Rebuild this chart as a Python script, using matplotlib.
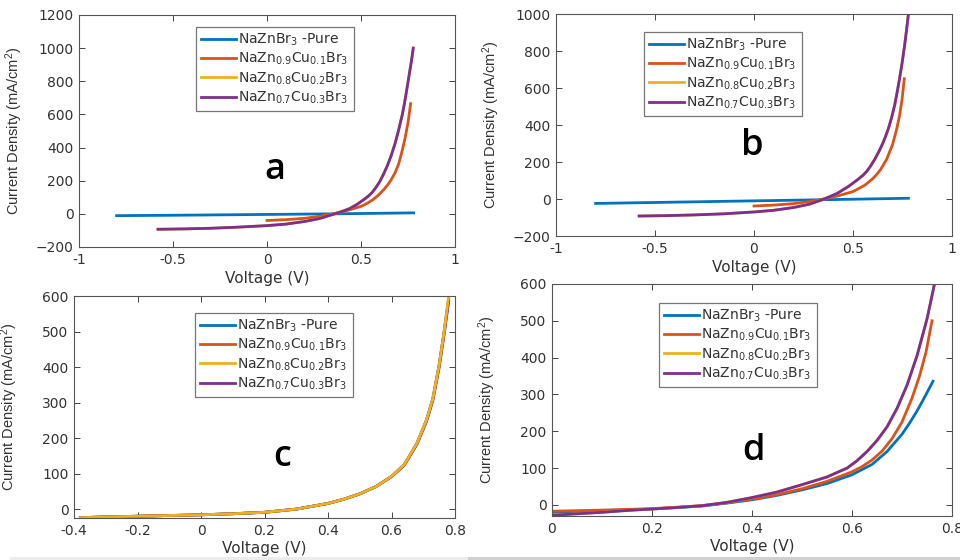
import matplotlib.pyplot as plt
from matplotlib.patches import Rectangle

plt.rcParams['font.family'] = ['DejaVu Sans']
plt.rcParams['mathtext.default'] = 'regular'

# legend labels (same in every panel)
labels = [r'NaZnBr$_3$ -Pure',
          r'NaZn$_{0.9}$Cu$_{0.1}$Br$_3$',
          r'NaZn$_{0.8}$Cu$_{0.2}$Br$_3$',
          r'NaZn$_{0.7}$Cu$_{0.3}$Br$_3$']
colors = ['#0072BD', '#D95319', '#EDB120', '#7E2F8E']

# ---- panel a ----
v_a_pure = [-0.8, -0.4, 0.0, 0.35, 0.78]
j_a_pure = [-11, -7.5, -3.5, 0, 6]
v_a_cu1 = [0.0, 0.1, 0.2, 0.28, 0.35, 0.42, 0.5, 0.53, 0.56, 0.59, 0.62, 0.64, 0.66, 0.68,
           0.7, 0.72, 0.735, 0.75, 0.764]
j_a_cu1 = [-40, -35, -27, -15, 0, 18, 45, 62, 83, 110, 145, 172, 205, 245,
           300, 385, 460, 550, 665]
v_a_cu3 = [-0.58, -0.45, -0.3, -0.15, 0.0, 0.1, 0.2, 0.28, 0.36, 0.4, 0.44, 0.48, 0.52, 0.54,
           0.56, 0.58, 0.6, 0.62, 0.64, 0.66, 0.68, 0.7, 0.72, 0.73, 0.74, 0.75, 0.76, 0.77, 0.778]
j_a_cu3 = [-93, -91, -87, -80, -71, -62, -46, -28, 0, 15, 32, 58, 90, 108,
           130, 160, 195, 240, 290, 350, 420, 505, 600, 660, 725, 795, 865, 935, 1000]
v_a_cu2 = v_a_cu3
j_a_cu2 = j_a_cu3

# ---- panel b ----
v_b_pure = [-0.8, -0.4, 0.0, 0.4, 0.78]
j_b_pure = [-24, -17, -10, -3, 4]
v_b_cu1 = [0.0, 0.1, 0.2, 0.28, 0.35, 0.42, 0.5, 0.53, 0.56, 0.6, 0.62, 0.64, 0.67, 0.7,
           0.72, 0.735, 0.748, 0.759]
j_b_cu1 = [-38, -33, -25, -14, 0, 16, 40, 57, 75, 110, 133, 160, 215, 295,
           375, 450, 540, 650]
v_b_cu3 = [-0.58, -0.45, -0.3, -0.15, 0.0, 0.1, 0.2, 0.28, 0.35, 0.42, 0.48, 0.53, 0.55, 0.57,
           0.59, 0.61, 0.63, 0.65, 0.665, 0.68, 0.695, 0.71, 0.72, 0.735, 0.748, 0.76, 0.77, 0.78]
j_b_cu3 = [-92, -90, -86, -80, -70, -61, -46, -28, -2, 30, 70, 110, 128, 150,
           180, 215, 255, 300, 340, 385, 440, 505, 560, 650, 735, 825, 910, 1000]
v_b_cu2 = v_b_cu3
j_b_cu2 = j_b_cu3

# ---- panel c (all four nearly on top of each other) ----
v_c = [-0.38, -0.3, -0.2, -0.1, 0.0, 0.1, 0.2, 0.3, 0.4, 0.45, 0.5, 0.55, 0.6, 0.64,
       0.68, 0.71, 0.73, 0.75, 0.765, 0.78]
j_c_pure = [-24, -22, -20, -18, -16, -13, -9, 0, 16, 28, 43, 63, 92, 125,
            185, 250, 310, 405, 495, 590]
j_c_cu1 = [-24, -22, -20, -18, -16, -13, -9, 0, 16, 28, 43, 63, 92, 125,
           185, 250, 310, 405, 495, 592]
j_c_cu2 = [-24, -22, -20, -18, -16, -13, -9, 0, 16, 28, 43, 63, 92, 125,
           185, 250, 310, 405, 495, 600]
j_c_cu3 = [-24, -22, -20, -18, -16, -13, -9, 0, 16, 28, 43, 63, 91, 123,
           182, 246, 305, 398, 487, 585]

# ---- panel d ----
v_d_pure = [0.0, 0.1, 0.2, 0.3, 0.35, 0.4, 0.45, 0.5, 0.55, 0.6, 0.64, 0.67, 0.7, 0.715,
            0.73, 0.745, 0.762]
j_d_pure = [-20, -16, -11, -3, 5, 14, 26, 41, 58, 82, 110, 145, 192, 222,
            255, 292, 336]
v_d_cu1 = [0.0, 0.1, 0.2, 0.3, 0.35, 0.4, 0.45, 0.5, 0.55, 0.6, 0.62, 0.64, 0.66, 0.68,
           0.7, 0.72, 0.735, 0.748, 0.76]
j_d_cu1 = [-17, -14, -10, -2, 6, 16, 28, 44, 64, 90, 104, 122, 146, 180,
           225, 290, 350, 415, 500]
v_d_cu3 = [0.0, 0.05, 0.1, 0.15, 0.2, 0.25, 0.3, 0.35, 0.4, 0.45, 0.5, 0.55, 0.59, 0.61,
           0.63, 0.65, 0.67, 0.69, 0.71, 0.73, 0.75, 0.765]
j_d_cu3 = [-28, -24, -20, -15, -11, -7, -2, 7, 20, 35, 55, 76, 100, 120,
           145, 175, 212, 262, 325, 405, 505, 600]
v_d_cu2 = v_d_cu3
j_d_cu2 = j_d_cu3

W, H = 960, 560
fig = plt.figure(figsize=(9.6, 5.6), dpi=100)


def make_axes(left, top, right, bottom):
    # pixel box -> figure fraction
    return fig.add_axes([left / W, 1 - bottom / H, (right - left) / W, (bottom - top) / H])


panels = [
    dict(box=(79, 15, 455, 247), xlim=(-1, 1), ylim=(-200, 1200),
         xt=[-1, -0.5, 0, 0.5, 1], yt=list(range(-200, 1201, 200)),
         curves=[(v_a_pure, j_a_pure), (v_a_cu1, j_a_cu1), (v_a_cu2, j_a_cu2), (v_a_cu3, j_a_cu3)],
         order=[0, 1, 2, 3], leg=(196, 27), letter=('a', 275, 170)),
    dict(box=(556, 14, 952, 236), xlim=(-1, 1), ylim=(-200, 1000),
         xt=[-1, -0.5, 0, 0.5, 1], yt=list(range(-200, 1001, 200)),
         curves=[(v_b_pure, j_b_pure), (v_b_cu1, j_b_cu1), (v_b_cu2, j_b_cu2), (v_b_cu3, j_b_cu3)],
         order=[0, 1, 2, 3], leg=(644, 32), letter=('b', 752, 146)),
    dict(box=(74, 296, 455, 518), xlim=(-0.4, 0.8), ylim=(-25, 600),
         xt=[-0.4, -0.2, 0, 0.2, 0.4, 0.6, 0.8], yt=list(range(0, 601, 100)),
         curves=[(v_c, j_c_pure), (v_c, j_c_cu1), (v_c, j_c_cu2), (v_c, j_c_cu3)],
         order=[0, 1, 3, 2], leg=(195, 313), letter=('c', 282, 457)),
    dict(box=(552, 284, 952, 516), xlim=(0, 0.8), ylim=(-30, 600),
         xt=[0, 0.2, 0.4, 0.6, 0.8], yt=list(range(0, 601, 100)),
         curves=[(v_d_pure, j_d_pure), (v_d_cu1, j_d_cu1), (v_d_cu2, j_d_cu2), (v_d_cu3, j_d_cu3)],
         order=[0, 1, 2, 3], leg=(659, 303), letter=('d', 753, 451)),
]

for p in panels:
    left, top, right, bottom = p['box']
    ax = make_axes(left, top, right, bottom)
    handles = [None] * 4
    for i in p['order']:
        v, j = p['curves'][i]
        handles[i], = ax.plot(v, j, color=colors[i], lw=2.0, label=labels[i])

    ax.set_xlim(*p['xlim'])
    ax.set_ylim(*p['ylim'])
    ax.set_xticks(p['xt'])
    ax.set_xticklabels([f'{t:g}' for t in p['xt']])
    ax.set_yticks(p['yt'])
    ax.tick_params(direction='in', top=True, right=True, length=4, width=0.7,
                   labelsize=10, labelcolor='#333333', color='#444444', pad=4)
    for s in ax.spines.values():
        s.set_color('#555555')
        s.set_linewidth(0.8)

    ax_w = right - left
    ax_h = bottom - top
    ax.set_xlabel('Voltage (V)', fontsize=11, color='#333333', va='center')
    ax.xaxis.set_label_coords(0.5, -31 / ax_h)
    ax.set_ylabel(r'Current Density (mA/cm$^2$)', fontsize=10.5, color='#333333',
                  family='Liberation Sans')
    ax.yaxis.set_label_coords(-54 / ax_w, 0.5)

    lx, ly = p['leg']
    leg = ax.legend(handles=handles, loc='upper left', bbox_to_anchor=(lx / W, 1 - ly / H),
                    bbox_transform=fig.transFigure, borderaxespad=0, fontsize=10,
                    handlelength=2.5, handletextpad=0.2, labelspacing=0.2,
                    borderpad=0.35, fancybox=False, framealpha=1)
    leg.get_frame().set_edgecolor('#777777')
    leg.get_frame().set_linewidth(0.9)
    for t in leg.get_texts():
        t.set_color('#333333')

    letter, tx, ty = p['letter']
    fig.text(tx / W, 1 - ty / H, letter, fontsize=26, family='Open Sans', weight='semibold',
             ha='center', va='center', color='black')

# thin grey strip along the bottom edge
fig.add_artist(Rectangle((0.01, 0), 0.478, 3 / H, transform=fig.transFigure,
                         color='#ececec', lw=0))
fig.add_artist(Rectangle((0.488, 0), 0.512, 3 / H, transform=fig.transFigure,
                         color='#cfcfcf', lw=0))

fig.savefig('out.png', dpi=100)
